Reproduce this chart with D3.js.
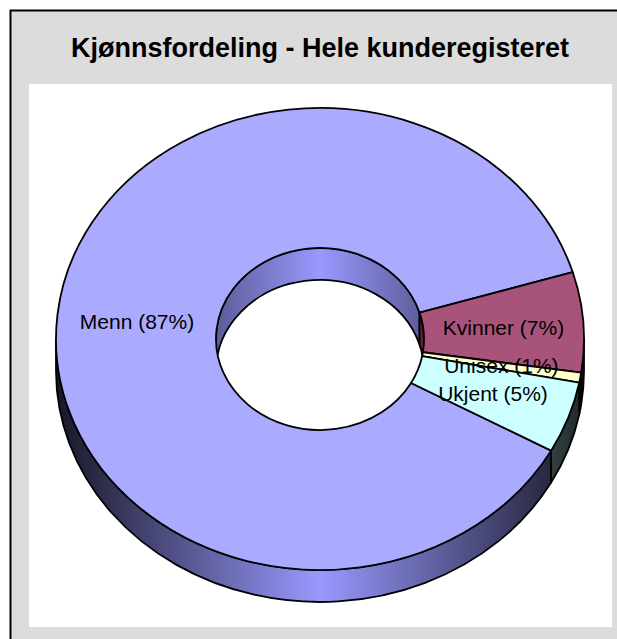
<!DOCTYPE html>
<html>
<head>
<meta charset="utf-8">
<script src="https://cdn.jsdelivr.net/npm/d3@7"></script>
<style>
  body { margin: 0; background: #fff; }
  text { font-family: "Liberation Sans", Arial, sans-serif; }
</style>
</head>
<body>
<div id="chart"></div>
<script>
const title = "Kjønnsfordeling - Hele kunderegisteret";
const categories = ["Menn", "Kvinner", "Unisex", "Ukjent"];
const shares = [87.3, 7.0, 0.7, 5.0];
const topColors = ["#aaaaff", "#a8547a", "#ffffcc", "#ccffff"];
const sideColors = ["#9999ff", "#993366", "#ffffcc", "#ccffff"];

const width = 617, height = 639;
const cx = 320, cy = 339;
const outerR = 264, innerR = 104;
const tilt = 0.875;      // ry / rx
const depth = 32;
const firstAngle = 118.9 * Math.PI / 180;
const lineW = 1.8;

const svg = d3.select("#chart")
  .append("svg")
    .attr("width", width)
    .attr("height", height);

// frame
svg.append("rect")
  .attr("x", 10.5).attr("y", 10.5)
  .attr("width", 640).attr("height", 660)
  .attr("fill", "#dcdcdc")
  .attr("stroke", "#000")
  .attr("stroke-width", 2);

svg.append("rect")
  .attr("x", 29).attr("y", 84)
  .attr("width", 583).attr("height", 543)
  .attr("fill", "#fff");

svg.append("text")
  .attr("x", cx).attr("y", 57)
  .attr("text-anchor", "middle")
  .attr("font-size", 27)
  .attr("font-weight", "bold")
  .attr("fill", "#000")
  .text(title);

const pie = d3.pie()
  .sort(null)
  .startAngle(firstAngle)
  .endAngle(firstAngle + 2 * Math.PI);

const slices = pie(shares);

// gradients for the walls
const defs = svg.append("defs");
function shade(c, f) {
  const rgb = d3.rgb(c);
  return d3.rgb(rgb.r * f, rgb.g * f, rgb.b * f).formatHex();
}
function addGradient(id, color, rad, edge) {
  const g = defs.append("linearGradient")
    .attr("id", id)
    .attr("gradientUnits", "userSpaceOnUse")
    .attr("x1", -rad).attr("x2", rad)
    .attr("y1", 0).attr("y2", 0);
  g.append("stop").attr("offset", 0).attr("stop-color", shade(color, edge));
  g.append("stop").attr("offset", 0.5).attr("stop-color", color);
  g.append("stop").attr("offset", 1).attr("stop-color", shade(color, edge));
}
sideColors.forEach((c, i) => {
  addGradient("outer" + i, c, outerR, 0.15);
  addGradient("inner" + i, c, innerR, 0.6);
});

const donut = svg.append("g")
  .attr("transform", `translate(${cx},${cy}) scale(1,${tilt})`);

const d = depth / tilt;
const HALF = Math.PI / 2;

// intersect [a0,a1] with [lo,hi] + 2πk
function clipRange(a0, a1, lo, hi) {
  const out = [];
  for (let k = -1; k <= 2; k++) {
    const s = Math.max(a0, lo + k * 2 * Math.PI);
    const e = Math.min(a1, hi + k * 2 * Math.PI);
    if (e > s) out.push([s, e]);
  }
  return out;
}

function wallPath(rad, s, e) {
  const p = d3.path();
  p.arc(0, 0, rad, s - HALF, e - HALF, false);
  p.arc(0, d, rad, e - HALF, s - HALF, true);
  p.closePath();
  return p.toString();
}

// outer side walls (front half)
slices.forEach((sl, i) => {
  clipRange(sl.startAngle, sl.endAngle, HALF, 3 * HALF).forEach(([s, e]) => {
    donut.append("path")
      .attr("d", wallPath(outerR, s, e))
      .attr("fill", `url(#outer${i})`)
      .attr("stroke", "#000")
      .attr("stroke-width", lineW)
      .attr("stroke-linejoin", "round")
      .attr("vector-effect", "non-scaling-stroke");
  });
});

// inner walls (far half of the hole)
slices.forEach((sl, i) => {
  clipRange(sl.startAngle, sl.endAngle, -HALF, HALF).forEach(([s, e]) => {
    donut.append("path")
      .attr("d", wallPath(innerR, s, e))
      .attr("fill", `url(#inner${i})`)
      .attr("stroke", "#000")
      .attr("stroke-width", lineW)
      .attr("stroke-linejoin", "round")
      .attr("vector-effect", "non-scaling-stroke");
  });
});

// top faces
const arc = d3.arc().innerRadius(innerR).outerRadius(outerR);
donut.selectAll("path.top")
  .data(slices)
  .enter()
  .append("path")
    .attr("class", "top")
    .attr("d", arc)
    .attr("fill", (s, i) => topColors[i])
    .attr("stroke", "#000")
    .attr("stroke-width", lineW)
    .attr("stroke-linejoin", "round")
    .attr("vector-effect", "non-scaling-stroke");

// labels
const labelR = (outerR + innerR) / 2;
svg.selectAll("text.lbl")
  .data(slices)
  .enter()
  .append("text")
    .attr("class", "lbl")
    .attr("x", s => cx + labelR * Math.sin((s.startAngle + s.endAngle) / 2))
    .attr("y", s => cy - tilt * labelR * Math.cos((s.startAngle + s.endAngle) / 2))
    .attr("dy", "0.35em")
    .attr("text-anchor", "middle")
    .attr("font-size", 21)
    .attr("fill", "#000")
    .text((s, i) => `${categories[i]} (${Math.round(s.value)}%)`);
</script>
</body>
</html>
